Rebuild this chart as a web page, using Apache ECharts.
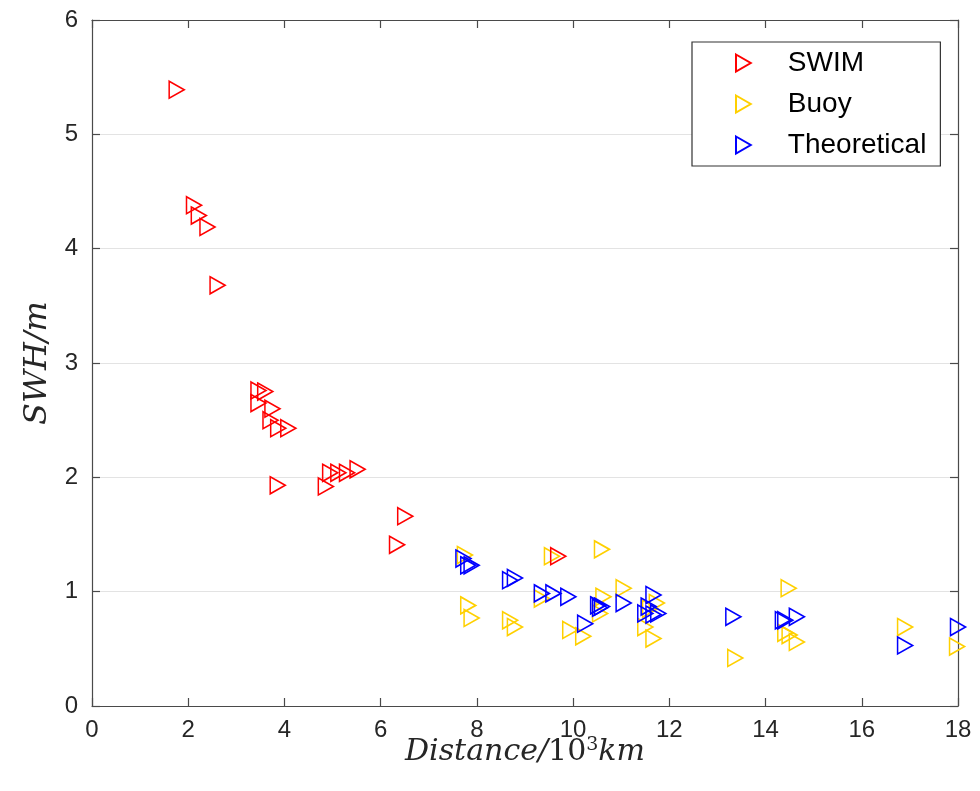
<!DOCTYPE html>
<html>
<head>
<meta charset="utf-8">
<script src="https://cdn.jsdelivr.net/npm/echarts@6/dist/echarts.min.js"></script>
<style>
html,body{margin:0;padding:0;background:#fff;}
#chart{width:980px;height:791px;}
</style>
</head>
<body>
<div id="chart"></div>
<script>
// ---- data ----
const seriesNames = ['SWIM', 'Buoy', 'Theoretical'];
const xTicks = [0, 2, 4, 6, 8, 10, 12, 14, 16, 18];
const yTicks = [0, 1, 2, 3, 4, 5, 6];

const swim = [
  [1.76,5.39],[2.12,4.38],[2.22,4.29],[2.40,4.19],[2.61,3.68],
  [3.46,2.76],[3.60,2.75],[3.46,2.65],[3.75,2.60],[3.71,2.50],
  [3.87,2.43],[4.08,2.43],[3.86,1.93],[4.86,1.92],[4.95,2.04],
  [5.12,2.04],[5.30,2.04],[5.52,2.07],[6.34,1.41],[6.51,1.66],
  [9.69,1.31]
];
const buoy = [
  [7.75,1.32],[9.56,1.31],[10.60,1.37],[7.82,0.88],[7.89,0.77],
  [8.69,0.75],[8.79,0.69],[9.35,0.94],[9.94,0.665],[10.21,0.61],
  [10.63,0.955],[10.56,0.81],[11.05,1.03],[11.74,0.90],[11.50,0.69],
  [11.67,0.59],[11.60,0.85],[14.48,1.03],[14.41,0.64],[14.50,0.62],
  [14.65,0.56],[13.37,0.42],[16.90,0.69],[17.98,0.52]
];
const theoretical = [
  [7.72,1.29],[7.82,1.23],[7.89,1.23],[8.69,1.10],[8.79,1.12],
  [9.35,0.985],[9.59,0.985],[9.90,0.955],[10.25,0.72],[10.52,0.88],
  [10.56,0.86],[10.60,0.87],[11.05,0.90],[11.67,0.97],[11.57,0.87],
  [11.50,0.81],[11.77,0.81],[11.67,0.80],[13.33,0.78],[14.36,0.75],
  [14.41,0.75],[14.65,0.78],[16.90,0.53],[18.00,0.69]
];

const colors = { SWIM: '#ff0000', Buoy: '#ffd000', Theoretical: '#0000ff' };
const tri = 'path://M0,0L13,7.5L0,15Z';

function mkSeries(name, data, z) {
  return {
    name: name, type: 'scatter', data: data, z: z,
    symbol: tri, symbolSize: [15, 17],
    itemStyle: { color: 'rgba(0,0,0,0)', borderColor: colors[name], borderWidth: 1.6, opacity: 1 },
    emphasis: { disabled: true }
  };
}

const serif = 'DejaVu Serif, Liberation Serif, serif';
const axisCol = '#4a4a4a';
const chart = echarts.init(document.getElementById('chart'), null, { renderer: 'canvas' });
chart.setOption({
  animation: false,
  backgroundColor: '#ffffff',
  grid: { left: 92, right: 22, top: 20, bottom: 85 },
  legend: {
    orient: 'vertical', left: 692, top: 42,
    data: seriesNames.map(n => ({ name: n, icon: tri })),
    itemWidth: 15, itemHeight: 17, itemGap: 13,
    padding: [7, 14, 7, 43],
    backgroundColor: '#ffffff', borderColor: '#333333', borderWidth: 1.2,
    textStyle: { fontFamily: 'Liberation Sans, Arial, sans-serif', fontSize: 28, color: '#000', padding: [0, 0, 0, 32] }
  },
  xAxis: [
    {
      type: 'value', min: xTicks[0], max: xTicks[xTicks.length - 1], interval: 2, position: 'bottom',
      name: '{i|Distance/}{n|10}{s|3}{i|km}', nameLocation: 'middle', nameGap: 30,
      nameMoveOverlap: false,
      nameTextStyle: { rich: {
        i: { fontFamily: serif, fontStyle: 'italic', fontSize: 30, color: '#262626' },
        n: { fontFamily: serif, fontSize: 30, color: '#262626' },
        s: { fontFamily: serif, fontSize: 19, color: '#262626', padding: [0, 0, 14, 0] }
      } },
      axisLine: { show: true, onZero: false, lineStyle: { color: axisCol, width: 1.2 } },
      axisTick: { show: true, inside: true, length: 8, lineStyle: { color: axisCol, width: 1.2 } },
      axisLabel: { fontFamily: 'Liberation Sans, Arial, sans-serif', fontSize: 24, color: '#262626', margin: 12 },
      splitLine: { show: false }
    },
    {
      type: 'value', min: xTicks[0], max: xTicks[xTicks.length - 1], interval: 2, position: 'top',
      axisLine: { show: true, onZero: false, lineStyle: { color: axisCol, width: 1.2 } },
      axisTick: { show: true, inside: true, length: 8, lineStyle: { color: axisCol, width: 1.2 } },
      axisLabel: { show: false }, splitLine: { show: false }
    }
  ],
  yAxis: [
    {
      type: 'value', min: yTicks[0], max: yTicks[yTicks.length - 1], interval: 1, position: 'left',
      name: 'SWH/m', nameLocation: 'middle', nameGap: 38,
      nameTextStyle: { fontFamily: serif, fontStyle: 'italic', fontSize: 32, color: '#262626' },
      axisLine: { show: true, onZero: false, lineStyle: { color: axisCol, width: 1.2 } },
      axisTick: { show: true, inside: true, length: 8, lineStyle: { color: axisCol, width: 1.2 } },
      axisLabel: { fontFamily: 'Liberation Sans, Arial, sans-serif', fontSize: 24, color: '#262626', margin: 14 },
      splitLine: { show: true, lineStyle: { color: '#e3e3e3', width: 1.2 } }
    },
    {
      type: 'value', min: yTicks[0], max: yTicks[yTicks.length - 1], interval: 1, position: 'right',
      axisLine: { show: true, onZero: false, lineStyle: { color: axisCol, width: 1.2 } },
      axisTick: { show: true, inside: true, length: 8, lineStyle: { color: axisCol, width: 1.2 } },
      axisLabel: { show: false }, splitLine: { show: false }
    }
  ],
  series: [
    mkSeries('Buoy', buoy, 2),
    mkSeries('SWIM', swim, 3),
    mkSeries('Theoretical', theoretical, 4)
  ]
});
</script>
</body>
</html>
